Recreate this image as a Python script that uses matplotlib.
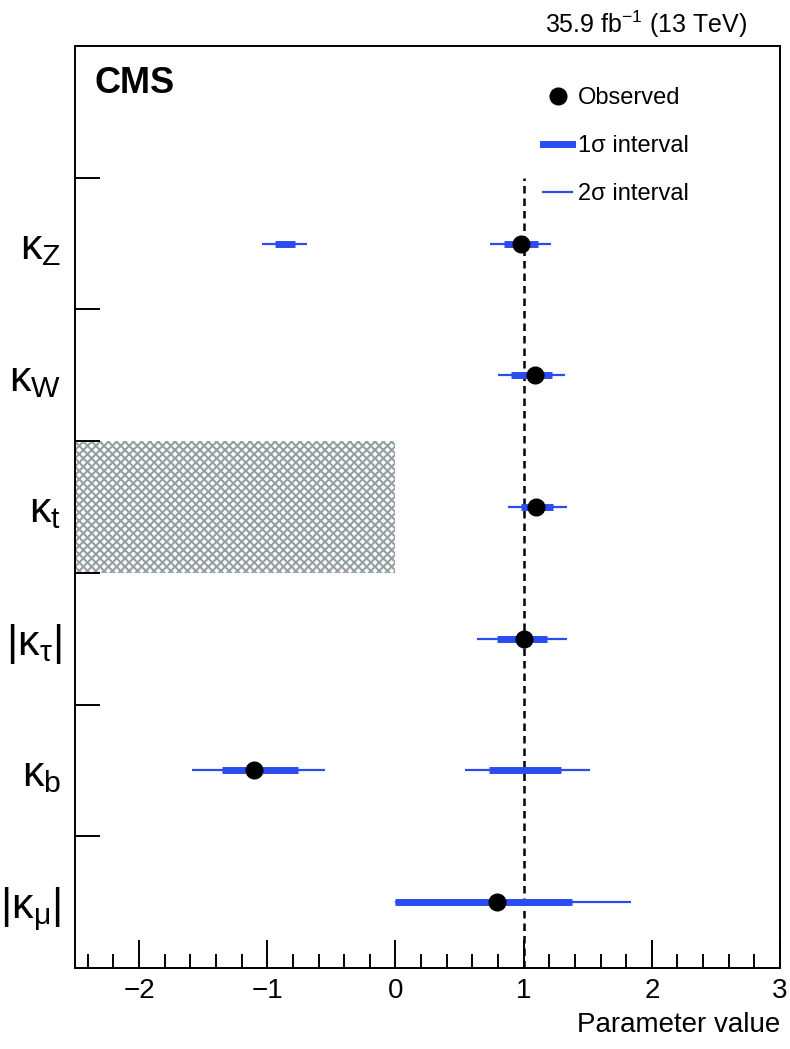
import matplotlib
matplotlib.use("Agg")
import matplotlib.pyplot as plt
from matplotlib.lines import Line2D

plt.rcParams['font.family'] = ['Liberation Sans', 'DejaVu Sans']
plt.rcParams['mathtext.fontset'] = 'custom'
plt.rcParams['mathtext.rm'] = 'Liberation Sans'
plt.rcParams['hatch.linewidth'] = 1.5

# Parameters, top to bottom
params = [r'$\mathregular{\kappa_{Z}}$', r'$\mathregular{\kappa_{W}}$', r'$\mathregular{\kappa_{t}}$',
          r'$\mathregular{|\kappa_{\tau}|}$', r'$\mathregular{\kappa_{b}}$', r'$\mathregular{|\kappa_{\mu}|}$']
observed = [0.98, 1.09, 1.10, 1.00, -1.10, 0.79]
# 1 sigma and 2 sigma intervals (can be split in two pieces)
sigma1 = [[(-0.94, -0.78), (0.85, 1.11)],
          [(0.90, 1.22)],
          [(0.98, 1.23)],
          [(0.79, 1.18)],
          [(-1.35, -0.76), (0.73, 1.29)],
          [(0.0, 1.38)]]
sigma2 = [[(-1.04, -0.69), (0.74, 1.21)],
          [(0.80, 1.32)],
          [(0.875, 1.34)],
          [(0.64, 1.34)],
          [(-1.59, -0.55), (0.54, 1.52)],
          [(0.0, 1.84)]]
# excluded region for kappa_t
excl_lo, excl_hi = -2.5, 0.0

blue = '#2b4cf0'
n = len(params)
ypos = [n - 0.5 - i for i in range(n)]

fig = plt.figure(figsize=(7.9, 10.49), dpi=100)
ax = fig.add_axes([75/790, 1 - 968/1049, (780-75)/790, (968-46)/1049])

# hatched region
kt = params.index(r'$\mathregular{\kappa_{t}}$')
ax.fill_betweenx([ypos[kt] - 0.5, ypos[kt] + 0.5], excl_lo, excl_hi,
                 facecolor='none', edgecolor='#95a0a0', hatch='xxxx', linewidth=0)

# SM line
ax.vlines(1, 0, n, colors='black', linestyles=(0, (3, 2)), linewidth=1.8, zorder=2)

for i in range(n):
    for lo, hi in sigma2[i]:
        ax.hlines(ypos[i], lo, hi, colors=blue, linewidth=1.6, zorder=3)
    for lo, hi in sigma1[i]:
        ax.hlines(ypos[i], lo, hi, colors=blue, linewidth=5, zorder=4)
    ax.plot(observed[i], ypos[i], 'o', color='black', markersize=12, zorder=5)

ax.set_xlim(-2.5, 3)
ax.set_ylim(0, n + 1)

ax.set_xticks(range(-2, 4))
ax.set_xticklabels(['\u22122', '\u22121', '0', '1', '2', '3'])
ax.set_xticks([x / 5 for x in range(-12, 16)], minor=True)
ax.tick_params(axis='x', which='major', direction='in', length=20, width=1.4,
               labelsize=20, pad=7, top=False)
ax.tick_params(axis='x', which='minor', direction='in', length=10, width=1.4, top=False)

ax.set_yticks(range(1, n + 1))
ax.set_yticklabels([])
ax.tick_params(axis='y', which='major', direction='in', length=18, width=1.4, right=False)
ax.set_yticks(ypos, minor=True)
ax.set_yticklabels(params, minor=True)
ax.tick_params(axis='y', which='minor', length=0, labelsize=31, pad=10)

for s in ax.spines.values():
    s.set_linewidth(1.4)

ax.set_xlabel('Parameter value', loc='right', fontsize=20, labelpad=6)

handles = [Line2D([], [], marker='o', color='black', linestyle='none', markersize=12),
           Line2D([], [], color=blue, linewidth=5),
           Line2D([], [], color=blue, linewidth=1.6)]
ax.legend(handles, ['Observed', '1\u03c3 interval', '2\u03c3 interval'],
          loc='upper left', bbox_to_anchor=(0.664, 0.955), frameon=False,
          fontsize=17, handlelength=1.23, handletextpad=0.25, labelspacing=1.1,
          borderpad=0, borderaxespad=0)

fig.text(95/790, 1 - 93/1049, 'CMS', fontsize=26, fontweight='bold', va='baseline')
fig.text(747/790, 1 - 33/1049, r'35.9 fb$^{\mathregular{-1}}$ (13 TeV)', fontsize=18,
         ha='right', va='baseline')

fig.savefig('out.png', dpi=100)
